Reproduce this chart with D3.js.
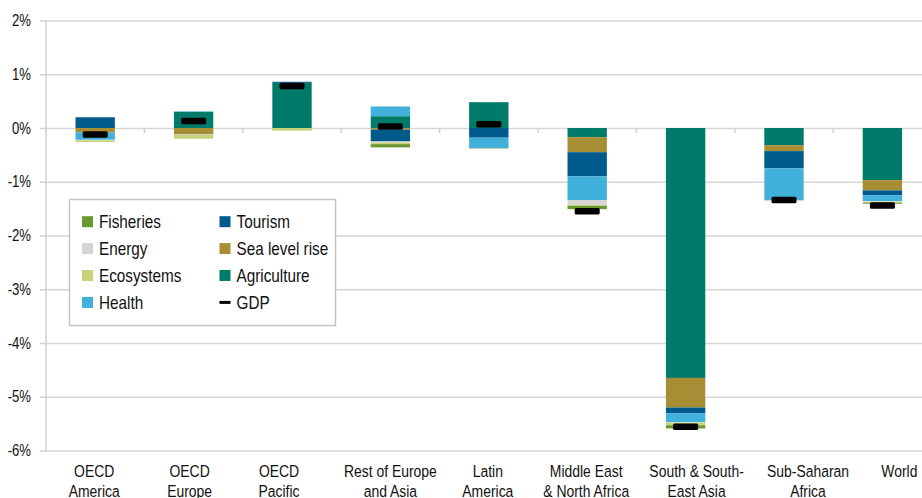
<!DOCTYPE html>
<html>
<head>
<meta charset="utf-8">
<script src="https://cdn.jsdelivr.net/npm/d3@7"></script>
<style>
  body { margin: 0; background: #fff; }
  svg text { font-family: "Liberation Sans", Arial, sans-serif; fill: #111; }
</style>
</head>
<body>
<svg class="graph" width="922" height="498"></svg>
<script>
// data (% change in GDP)
var categories = ["OECD America", "OECD Europe", "OECD Pacific", "Rest of Europe and Asia", "Latin America",
  "Middle East & North Africa", "South & South-East Asia", "Sub-Saharan Africa", "World"];
var categoryLabels = [["OECD", "America"], ["OECD", "Europe"], ["OECD", "Pacific"], ["Rest of Europe", "and Asia"],
  ["Latin", "America"], ["Middle East", "& North Africa"], ["South & South-", "East Asia"], ["Sub-Saharan", "Africa"], ["World"]];

var agriculture  = [0,     0.30,  0.84,  0.22,  0.48, -0.17, -4.65, -0.32, -0.97];
var seaLevelRise = [-0.08, -0.12, 0,     -0.03, 0,    -0.28, -0.55, -0.11, -0.19];
var tourism      = [0.20,  0,     0.02,  -0.22, -0.18, -0.45, -0.11, -0.32, -0.09];
var health       = [-0.14, 0.01,  0,     0.18,  -0.20, -0.44, -0.16, -0.59, -0.11];
var energy       = [-0.01, -0.01, 0,     -0.02, 0,    -0.09, -0.01, -0.01, -0.01];
var ecosystems   = [-0.03, -0.07, -0.05, -0.03, -0.01, -0.02, -0.05, -0.01, -0.02];
var fisheries    = [0,     0,     0,     -0.06, 0,    -0.06, -0.06, 0,     -0.02];
var gdp          = [-0.12, 0.13,  0.78,  0.03,  0.07, -1.55, -5.56, -1.34, -1.44];

var yTicks = [2, 1, 0, -1, -2, -3, -4, -5, -6];

// stacking order, nearest to zero first
var stackKeys = ["Agriculture", "Sea level rise", "Tourism", "Health", "Energy", "Ecosystems", "Fisheries"];
var colors = {
  "Fisheries": "#6a9a2f",
  "Energy": "#d4d4d4",
  "Ecosystems": "#c8d27b",
  "Health": "#41b0da",
  "Tourism": "#005b8c",
  "Sea level rise": "#a78e35",
  "Agriculture": "#007a69",
  "GDP": "#000"
};
var legendCols = [["Fisheries", "Energy", "Ecosystems", "Health"], ["Tourism", "Sea level rise", "Agriculture", "GDP"]];

// the original's wrapped labels don't sit exactly under their bars
var labelShift = [-1, -4, -13, 0, -1, -1, 11, 24, 17];

// no narrow font installed, so squeeze Liberation Sans sideways
var narrow = 0.82;

var svg = d3.select(".graph");

main();

function main() {
  var table = categories.map(function (c, i) {
    return {
      category: c,
      "Agriculture": agriculture[i],
      "Sea level rise": seaLevelRise[i],
      "Tourism": tourism[i],
      "Health": health[i],
      "Energy": energy[i],
      "Ecosystems": ecosystems[i],
      "Fisheries": fisheries[i],
      gdp: gdp[i]
    };
  });
  drawChart(table);
}

function drawChart(table) {
  var left = 46, right = 931.6, top = 20.5, bottom = 450.5;

  var x = d3.scaleBand()
    .domain(categories)
    .range([left, right])
    .paddingInner(0.6)
    .paddingOuter(0.3);

  var y = d3.scaleLinear()
    .domain([-6, 2])
    .range([bottom, top]);

  // gridlines
  svg.append("g")
    .attr("class", "grid")
    .attr("transform", "translate(" + left + ",0)")
    .call(d3.axisLeft(y).tickValues(yTicks).tickSize(-(right - left)).tickFormat(""))
    .call(function (g) {
      g.select(".domain").remove();
      g.selectAll("line").attr("stroke", "#d6d6d6").attr("stroke-width", 1.5);
    });

  // y axis
  svg.append("g")
    .attr("class", "y-axis")
    .attr("transform", "translate(" + left + ",0)")
    .call(d3.axisLeft(y).tickValues(yTicks).tickSize(6).tickPadding(9).tickFormat(function (d) { return d + "%"; }))
    .call(function (g) {
      g.select(".domain").attr("stroke", "#d0d0d0").attr("stroke-width", 1.5).attr("d", "M0," + top + "V" + bottom);
      g.selectAll("line").attr("stroke", "#d0d0d0").attr("stroke-width", 1.5);
      g.selectAll("text")
        .attr("x", 0)
        .attr("transform", "translate(-15,0) scale(" + narrow + ",1)")
        .style("font-size", "16px")
        .attr("fill", "#111");
    });

  // category ticks on zero line
  var bounds = d3.range(categories.length + 1).map(function (i) { return left + i * x.step(); });
  svg.append("g")
    .selectAll("line")
    .data(bounds)
    .enter().append("line")
    .attr("x1", function (d) { return d; })
    .attr("x2", function (d) { return d; })
    .attr("y1", y(0))
    .attr("y2", y(0) + 5)
    .attr("stroke", "#d0d0d0")
    .attr("stroke-width", 1.5);

  // stacked bars
  var series = d3.stack()
    .keys(stackKeys)
    .offset(d3.stackOffsetDiverging)(table);

  svg.append("g")
    .attr("class", "bars")
    .selectAll("g")
    .data(series)
    .enter().append("g")
    .attr("fill", function (d) { return colors[d.key]; })
    .selectAll("rect")
    .data(function (d) { return d; })
    .enter().append("rect")
    .attr("x", function (d) { return x(d.data.category); })
    .attr("width", x.bandwidth())
    .attr("y", function (d) { return y(Math.max(d[0], d[1])); })
    .attr("height", function (d) { return Math.abs(y(d[0]) - y(d[1])); });

  // GDP markers
  svg.append("g")
    .attr("class", "gdp")
    .selectAll("rect")
    .data(table)
    .enter().append("rect")
    .attr("x", function (d) { return x(d.category) + x.bandwidth() / 2 - 12.5; })
    .attr("y", function (d) { return y(d.gdp) - 3.25; })
    .attr("width", 25)
    .attr("height", 6.5)
    .attr("rx", 1.5)
    .attr("fill", colors.GDP);

  // x labels
  var xl = svg.append("g")
    .attr("class", "x-labels")
    .selectAll("text")
    .data(categories)
    .enter().append("text")
    .attr("text-anchor", "middle")
    .attr("transform", function (d, i) {
      return "translate(" + (x(d) + x.bandwidth() / 2 + labelShift[i]) + ",477) scale(" + narrow + ",1)";
    })
    .style("font-size", "17px");

  xl.selectAll("tspan")
    .data(function (d, i) { return categoryLabels[i]; })
    .enter().append("tspan")
    .attr("x", 0)
    .attr("dy", function (d, i) { return i ? 20.5 : 0; })
    .text(function (d) { return d; });

  // legend
  var legend = svg.append("g").attr("class", "legend");
  legend.append("rect")
    .attr("x", 69.5)
    .attr("y", 199.5)
    .attr("width", 266)
    .attr("height", 126)
    .attr("fill", "#fff")
    .attr("stroke", "#c4c4c4")
    .attr("stroke-width", 1.5);

  legendCols.forEach(function (col, ci) {
    var sx = ci ? 219.5 : 82;
    var item = legend.selectAll(".col" + ci)
      .data(col)
      .enter().append("g")
      .attr("class", "col" + ci)
      .attr("transform", function (d, i) { return "translate(" + sx + "," + (221.7 + i * 26.9) + ")"; });

    item.append("rect")
      .attr("x", 0)
      .attr("y", function (d) { return d === "GDP" ? -1.5 : -5.5; })
      .attr("width", 11)
      .attr("height", function (d) { return d === "GDP" ? 3 : 11; })
      .attr("fill", function (d) { return colors[d]; });

    item.append("text")
      .attr("transform", "translate(17,6.5) scale(0.85,1)")
      .style("font-size", "18px")
      .text(function (d) { return d; });
  });
}
</script>
</body>
</html>
